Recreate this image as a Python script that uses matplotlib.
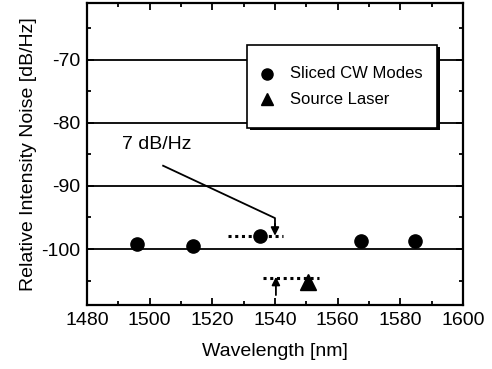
import matplotlib

matplotlib.use("Agg")
import matplotlib.pyplot as plt
from matplotlib.patches import Rectangle
from matplotlib.ticker import MultipleLocator

plt.rcParams["font.family"] = ["Liberation Sans", "DejaVu Sans"]
plt.rcParams["axes.unicode_minus"] = False

# RIN of the spectrally sliced CW modes and of the source laser
sliced_wl = [1495.9, 1513.9, 1535.1, 1567.5, 1584.6]
sliced_rin = [-99.2, -99.6, -98.0, -98.8, -98.8]
laser_wl = [1550.4]
laser_rin = [-105.2]

# dotted reference levels used for the 7 dB/Hz comparison
upper_ref_wl = [1525.0, 1542.7]
upper_ref_rin = [-98.0, -98.0]
lower_ref_wl = [1536.3, 1554.0]
lower_ref_rin = [-104.6, -104.6]

grid_levels = [-70, -80, -90, -100]
legend_labels = ["Sliced CW Modes", "Source Laser"]

fig = plt.figure(figsize=(4.92, 3.69), dpi=100)
ax = fig.add_axes([0.1768, 0.173, 0.7642, 0.819])

for level in grid_levels:
    ax.axhline(level, color="black", linewidth=1.3, zorder=1)

ax.plot(upper_ref_wl, upper_ref_rin, linestyle=(0, (1, 1.2)), color="black", linewidth=2.2, zorder=2)
ax.plot(lower_ref_wl, lower_ref_rin, linestyle=(0, (1, 1.2)), color="black", linewidth=2.2, zorder=2)

ax.plot(sliced_wl, sliced_rin, "o", color="black", markersize=9.5, linestyle="none", zorder=3)
ax.plot(laser_wl, laser_rin, "^", color="black", markersize=11, linestyle="none", zorder=3)

# 7 dB/Hz annotation: leader line then arrows onto the two levels
ax.plot([1504.3, 1540.0, 1540.0], [-86.8, -95.1, -96.5], color="black", linewidth=1.3, zorder=2)
ax.annotate("", xy=(1540.0, -97.9), xytext=(1540.0, -96.0),
            arrowprops=dict(arrowstyle="-|>", color="black", lw=1.3, mutation_scale=12,
                            shrinkA=0, shrinkB=0))
ax.annotate("", xy=(1540.3, -104.4), xytext=(1540.3, -107.3),
            arrowprops=dict(arrowstyle="-|>", color="black", lw=1.3, mutation_scale=12,
                            shrinkA=0, shrinkB=0))
ax.text(1502.4, -83.5, "7 dB/Hz", fontsize=14, ha="center", va="center")

# legend box with a hard drop shadow, laid out by hand in axes coordinates
box_x, box_y, box_w, box_h = 0.4255, 0.586, 0.5054, 0.275
ax.add_patch(Rectangle((box_x + 0.008, box_y - 0.007), box_w, box_h, transform=ax.transAxes,
                       facecolor="black", edgecolor="none", zorder=5))
ax.add_patch(Rectangle((box_x, box_y), box_w, box_h, transform=ax.transAxes,
                       facecolor="white", edgecolor="black", linewidth=1.2, zorder=6))
for label, marker, size, row_y in zip(legend_labels, ["o", "^"], [8, 8.5], [0.765, 0.682]):
    ax.plot([0.479], [row_y], marker=marker, color="black", markersize=size, linestyle="none",
            transform=ax.transAxes, zorder=7, clip_on=False)
    ax.text(0.540, row_y, label, fontsize=12, ha="left", va="center", transform=ax.transAxes,
            zorder=7)

ax.set_xlim(1480, 1600)
ax.set_ylim(-108.9, -61.0)
ax.xaxis.set_major_locator(MultipleLocator(20))
ax.xaxis.set_minor_locator(MultipleLocator(10))
ax.set_yticks(grid_levels)
ax.yaxis.set_minor_locator(MultipleLocator(5))
ax.tick_params(which="both", direction="in", top=True, right=True, width=1.3, labelsize=14)
ax.tick_params(which="major", length=5, pad=5)
ax.tick_params(which="minor", length=3)
for spine in ax.spines.values():
    spine.set_linewidth(1.6)
    spine.set_zorder(8)

ax.set_xlabel("Wavelength [nm]", fontsize=14, labelpad=10)
ax.set_ylabel("Relative Intensity Noise [dB/Hz]", fontsize=14, labelpad=3)

fig.savefig("out.png", dpi=100)
